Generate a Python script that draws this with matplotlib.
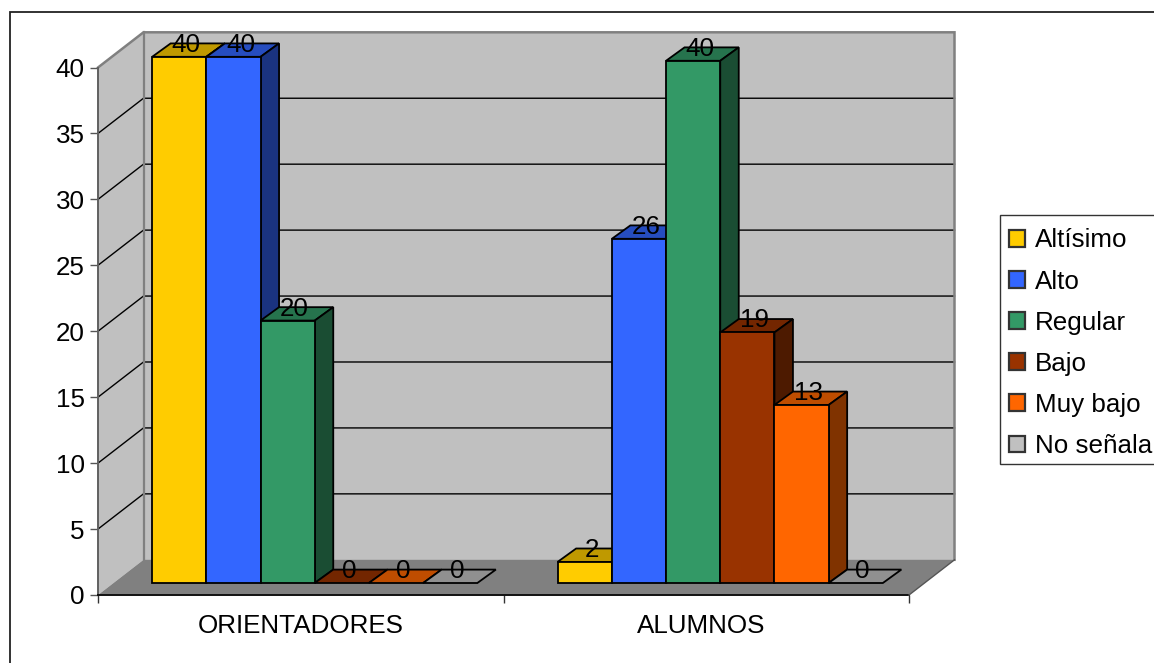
import matplotlib
matplotlib.use("Agg")
import matplotlib.pyplot as plt
from matplotlib.patches import Polygon, Patch, Rectangle
from matplotlib.lines import Line2D
import numpy as np

categories = ["ORIENTADORES", "ALUMNOS"]
series_names = ["Altísimo", "Alto", "Regular", "Bajo", "Muy bajo", "No señala"]
altisimo = [39.9, 1.6]
alto = [39.9, 26.1]
regular = [19.9, 39.6]
bajo = [0, 19.0]
muy_bajo = [0, 13.5]
no_senala = [0, 0]
label_altisimo = ["40", "2"]
label_alto = ["40", "26"]
label_regular = ["20", "40"]
label_bajo = ["0", "19"]
label_muy_bajo = ["0", "13"]
label_no_senala = ["0", "0"]
colors = ["#FFCC00", "#3366FF", "#339966", "#993300", "#FF6600", "#C0C0C0"]
y_ticks = [0, 5, 10, 15, 20, 25, 30, 35, 40]

series = [altisimo, alto, regular, bajo, muy_bajo, no_senala]
labels = [label_altisimo, label_alto, label_regular, label_bajo, label_muy_bajo, label_no_senala]

W, H = 1154, 663
FS = 18.7
plt.rcParams["font.family"] = ["Liberation Sans", "DejaVu Sans"]
fig = plt.figure(figsize=(W / 100, H / 100), dpi=100, facecolor="white")

L, R, T, B = 98.0, 909.0, 67.5, 595.0
ax = fig.add_axes([L / W, 1 - B / H, (R - L) / W, (B - T) / H])
ax.set_xlim(0, 2)
ax.set_ylim(0, 40)
ax.patch.set_visible(False)
for s in ax.spines.values():
    s.set_visible(False)

px_x = 2 / (R - L)
px_y = 40 / (B - T)
DX, DY = 45.5 * px_x, 35.2 * px_y      # wall depth
BDX, BDY = 18.5 * px_x, 13.4 * px_y    # bar depth
OX, OY = 14.0 * px_x, 12.0 * px_y      # bar front plane offset
BW = 54.2 * px_x


def shade(c, f):
    r = matplotlib.colors.to_rgb(c)
    return tuple(v * f for v in r)


def poly(pts, fc, ec="none", lw=0, z=1):
    ax.add_patch(Polygon(pts, closed=True, facecolor=fc, edgecolor=ec, linewidth=lw,
                         zorder=z, clip_on=False, joinstyle="miter"))


# walls and floor
poly([(0, 0), (DX, DY), (DX, 40 + DY), (0, 40)], "#C0C0C0", z=1)
poly([(DX, DY), (2 + DX, DY), (2 + DX, 40 + DY), (DX, 40 + DY)], "#C0C0C0", z=1)
poly([(0, 0), (2, 0), (2 + DX, DY), (DX, DY)], "#808080", z=2)

# gridlines
for t in y_ticks[1:-1]:
    ax.plot([0, DX, 2 + DX], [t, t + DY, t + DY], color="black", lw=1.0, zorder=1.5,
            clip_on=False, solid_joinstyle="miter")

# wall edges
ax.plot([DX, DX], [DY, 40 + DY], color="#808080", lw=1.6, zorder=1.7, clip_on=False)
ax.plot([0, DX, 2 + DX, 2 + DX], [40, 40 + DY, 40 + DY, DY], color="#808080", lw=1.8,
        zorder=1.7, clip_on=False, solid_joinstyle="miter")
ax.plot([0, 0], [0, 40], color="#606060", lw=1.4, zorder=3, clip_on=False)
ax.plot([0, 2], [0, 0], color="#111111", lw=1.4, zorder=3, clip_on=False)
ax.plot([2, 2 + DX], [0, DY], color="#555555", lw=1.0, zorder=3, clip_on=False)

# ticks
ax.set_yticks(y_ticks)
ax.set_xticks([0, 1, 2])
ax.set_xticklabels([])
ax.set_xticks([0.5, 1.488], minor=True)
ax.set_xticklabels(categories, minor=True, fontsize=FS, color="black")
ax.tick_params(axis="x", which="major", length=5.5, width=1.0, color="#333333")
ax.tick_params(axis="x", which="minor", length=0, pad=14)
ax.tick_params(axis="y", length=5.5, width=1.0, color="#555555", pad=4, labelsize=FS, labelcolor="black")

# bars
n = len(series)
z = 4.0
for c in range(len(categories)):
    x0 = c + 0.5 + OX - BW * n / 2
    for i, vals in enumerate(series):
        v = vals[c]
        xl = x0 + i * BW
        xr = xl + BW
        col = colors[i]
        yb = OY
        yt = OY + v
        poly([(xl, yt), (xr, yt), (xr + BDX, yt + BDY), (xl + BDX, yt + BDY)],
             shade(col, 0.75), "black", 1.3, z)
        if v > 0:
            poly([(xr, yb), (xr + BDX, yb + BDY), (xr + BDX, yt + BDY), (xr, yt)],
                 shade(col, 0.5), "black", 1.3, z)
            ax.bar(xl, v, BW, bottom=yb, align="edge", color=col, edgecolor="black",
                   linewidth=1.3, zorder=z + 0.1, clip_on=False)
        z += 0.2

# data labels
for c in range(len(categories)):
    x0 = c + 0.5 + OX - BW * n / 2
    for i, vals in enumerate(series):
        ax.text(x0 + (i + 0.5) * BW + 7.0 * px_x, OY + vals[c] + 12.0 * px_y, labels[i][c],
                ha="center", va="center", fontsize=FS, color="black", zorder=20, clip_on=False)

# legend
fig.add_artist(Rectangle((1000 / W, 1 - 464 / H), 170 / W, 249 / H, transform=fig.transFigure,
                         facecolor="white", edgecolor="#333333", linewidth=1.0))
handles = [Patch(facecolor=col, edgecolor="#333333", linewidth=1.6) for col in colors]
leg = fig.legend(handles, series_names, loc="upper left", bbox_to_anchor=(999 / W, 1 - 218 / H),
                 bbox_transform=fig.transFigure, borderaxespad=0, fontsize=FS, frameon=False,
                 handlelength=0.62, handleheight=0.62, handletextpad=0.38, labelspacing=0.66,
                 borderpad=0.4, labelcolor="black")

# chart area border
fig.add_artist(Line2D([9.5 / W, 9.5 / W, 1], [0, 1 - 11.5 / H, 1 - 11.5 / H], color="#222222",
                      lw=1.3, solid_joinstyle="miter"))

fig.savefig("out.png", dpi=100, facecolor="white")
